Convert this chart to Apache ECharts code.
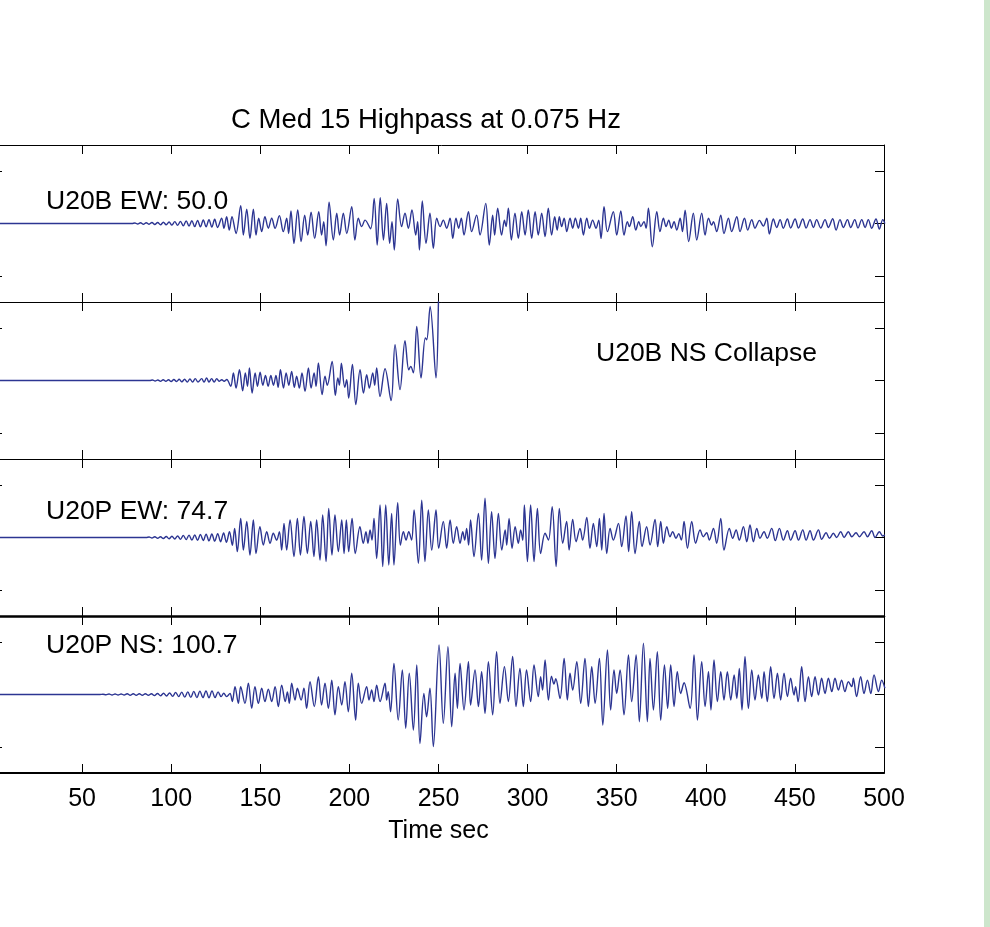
<!DOCTYPE html>
<html>
<head>
<meta charset="utf-8">
<script src="https://cdn.jsdelivr.net/npm/echarts@6/dist/echarts.min.js"></script>
<style>
html, body { margin: 0; padding: 0; background: #fff; }
#chart { width: 990px; height: 927px; }
</style>
</head>
<body>
<div id="chart"></div>
<script>
// Highpass-filtered records, [time in s, amplitude]
const ewB = [[0,0],[78,0],[79.6,0.02],[81.2,-0.02],[82.8,0.03],[84.4,-0.03],[86,0.03],[87.6,-0.03],[89.2,0.04],[90.8,-0.04],[92.4,0.04],[94,-0.05],[95.6,0.05],[97.2,-0.05],[98.8,0.06],[100.4,-0.06],[102,0.07],[103.6,-0.07],[105.2,0.08],[106.8,-0.09],[108.4,0.1],[110,-0.1],[111.6,0.11],[113.2,-0.12],[114.8,0.12],[116.4,-0.13],[118,0.14],[119.6,-0.13],[121.2,0.15],[122.8,-0.14],[124.4,0.16],[126,-0.15],
[128.3,0.20],[129.6,-0.18],[131.1,0.26],[132.6,-0.25],[134.1,0.26],[136.4,-0.38],[139.0,0.68],[140.5,-0.44],[142.4,0.55],[144.2,-0.57],[146.1,0.55],[147.6,-0.44],[149.1,0.20],[150.8,-0.31],[152.6,0.26],[154.5,-0.18],[156.4,0.20],[158.3,-0.18],[160.7,0.30],[162.9,-0.31],[164.8,0.20],[165.9,-0.38],[167.2,0.48],[168.9,-0.76],[171.0,0.52],[172.9,-0.69],[174.9,0.32],[176.6,-0.44],[178.5,0.43],[180.5,-0.57],[182.8,0.45],[184.4,-0.44],[185.6,0.07],[186.9,-0.85],[188.6,0.81],[191.0,-0.63],[192.9,0.39],[194.5,-0.44],[196.6,0.39],[198.5,-0.38],[201.3,0.64],[203.1,-0.63],[205.0,0.20],[206.9,-0.12],[208.8,0.13],[211.9,-0.2],[213.9,0.96],[215.6,-0.82],[217.3,0.99],[219.1,-0.63],[220.9,0.77],[222.6,-0.76],[223.9,0.07],[225.2,-1.01],[227.1,0.94],[229.3,-0.12],[231.2,0.39],[233.1,-0.18],[235.1,0.52],[237.2,-0.44],[238.3,0.07],[239.3,-1.01],[240.9,0.86],[243.0,-0.76],[245.2,0.39],[247.1,-0.95],[249.0,0.20],[250.9,-0.12],[252.7,0.13],[254.6,-0.18],[256.5,0.20],[258.0,-0.57],[259.8,0.20],[261.3,-0.18],[262.8,0.20],[264.3,-0.44],[266.8,0.45],[268.6,-0.31],[271.4,0.32],[273.3,-0.44],[276.5,0.77],[278.5,-0.82],[280.4,0.32],[281.5,-0.44],[283.2,0.58],[285.4,-0.44],[287.0,0.13],[287.9,-0.12],[289.2,0.58],[290.9,-0.63],[292.9,0.39],[294.8,-0.57],[296.7,0.45],[298.6,-0.44],[300.4,0.52],[302.3,-0.57],[304.2,0.45],[306.0,-0.44],[307.9,0.39],[309.8,-0.50],[311.6,0.58],[313.5,-0.44],
[315.2,0.26],[316.6,-0.25],[317.8,0.26],[319.1,-0.12],[320.5,0.20],[322.0,-0.31],[323.8,0.20],[325.3,-0.18],[326.8,0.20],[328.5,-0.18],[329.8,0.20],[331.3,-0.44],[333.2,0.20],[334.7,-0.18],[336.5,0.13],[338.4,-0.18],[339.9,0.13],[341.2,-0.57],[342.9,0.64],[344.8,-0.31],[348.1,0.45],[350.0,-0.44],[352.3,0.48],[354.1,-0.44],[356.0,0.07],[357.1,-0.12],[359.0,0.26],[360.7,-0.25],[362.4,0.07],[363.5,-0.12],[365.3,0.07],[366.5,-0.18],[367.8,0.58],[370.0,-0.89],[372.5,0.45],[374.3,-0.31],[376.2,0.20],[377.7,-0.12],[379.2,0.13],[380.7,-0.18],[382.2,0.07],[383.7,-0.25],[385.6,0.20],[386.9,-0.31],[388.4,0.51],[390.4,-0.69],[393.0,0.39],[394.9,-0.63],[397.7,0.39],[399.6,-0.44],[401.5,0.20],[403.3,-0.06],[404.3,0.07],[406.1,-0.31],[408.4,0.32],[410.2,-0.38],[412.7,0.20],[414.5,-0.31],[417.4,0.26],[419.2,-0.31],[421.7,0.20],[423.5,-0.25],[425.8,0.15],[427.6,-0.18],[430.1,0.12],[432.3,-0.10],[434.2,0.20],[435.7,-0.40],[437.9,0.17],[439.8,-0.15],[441.7,0.15],[443.5,-0.18],[445.8,0.17],[447.6,-0.17],[450.1,0.17],[452.0,-0.17],[454.4,0.17],[456.3,-0.17],[458.5,0.15],[460.4,-0.15],[462.2,0.15],[464.5,-0.17],[466.9,0.15],[468.8,-0.15],[471.2,0.18],[473.1,-0.25],[475.3,0.15],[477.2,-0.15],[479.5,0.15],[481.3,-0.15],[483.6,0.15],[485.4,-0.17],[487.5,0.15],[489.4,-0.15],[491.2,0.15],[493.1,-0.18],[495.5,0.17],[497.4,-0.21],[499.3,0.15],[500.5,0]];

const nsB = [[0,0],[88,0],[89.5,0.02],[91,-0.02],[92.5,0.02],[94,-0.03],[95.5,0.03],[97,-0.03],[98.5,0.03],[100,-0.04],[101.5,0.04],[103,-0.04],[104.5,0.05],[106,-0.05],[107.5,0.05],[109,-0.06],[110.5,0.06],[112,-0.06],[113.5,0.07],[115,-0.06],[117.1,0.07],[118.4,-0.06],[119.9,0.10],[121.2,-0.06],[122.7,0.07],[124.1,-0.06],[125.6,0.07],[126.9,-0.03],[128.4,0.03],[129.7,-0.03],[131.2,0.04],
[133.4,-0.22],[134.9,0.29],[136.4,-0.29],[138.3,0.41],[140.1,-0.39],[141.6,0.29],[142.8,-0.22],[143.9,0.48],[145.4,-0.48],[147.1,0.29],[148.4,-0.22],[149.9,0.32],[151.4,-0.18],[152.9,0.19],[154.4,-0.22],[155.9,0.19],[157.4,-0.18],[158.8,0.19],[160.0,-0.26],[161.3,0.41],[163.0,-0.29],[164.5,0.29],[166.0,-0.18],[167.6,0.35],[169.1,-0.26],[170.4,0.16],[171.9,-0.29],[173.4,0.29],[175.1,-0.41],[177.0,0.48],[178.5,-0.29],[180.2,0.29],[181.3,-0.22],[182.6,0.67],[184.7,-0.54],[186.3,0.16],[187.6,-0.18],[190.3,0.73],[192.1,-0.57],[193.5,0.10],[194.4,-0.18],[195.5,0.66],[197.4,-0.26],[198.5,0.03],[199.6,-0.67],[201.7,0.61],[203.6,-0.92],[206.0,0.41],[207.9,-0.48],[209.7,0.22],[211.2,-0.29],[213.1,0.29],[214.2,-0.18],[215.3,0.48],[217.2,-0.61],[220.0,0.45],[223.4,-0.77],[225.6,1.37],[228.4,-0.35],[231.2,1.52],[233.3,0.41],[234.4,0.54],[235.9,0.29],[237.8,2.07],[240.2,0.10],[242.6,1.63],[243.4,1.56],[245.3,2.83],[248.6,0.10],[250.1,3.4],[250.3,4.5]];

const ewP = [[0,0],[86,0],[87.6,0.02],[89.2,-0.02],[90.8,0.03],[92.4,-0.03],[94,0.03],[95.6,-0.04],[97.2,0.04],[98.8,-0.05],[100.4,0.05],[102,-0.06],[103.6,0.06],[105.2,-0.07],[106.8,0.08],[108.4,-0.08],[110,0.09],[111.6,-0.1],[113.2,0.1],[114.8,-0.11],[116.4,0.12],[118,-0.12],[119.6,0.13],[121.2,-0.13],[122.8,0.14],[124.4,-0.14],[126.1,0.15],[127.7,-0.16],[129.4,0.17],[131.0,-0.18],[132.7,0.22],[134.3,-0.3],[135.6,0.35],
[137.1,-0.54],[139.0,0.73],[140.5,-0.48],[142.4,0.61],[144.2,-0.67],[146.1,0.67],[147.6,-0.61],[149.8,0.41],[151.7,-0.29],[153.6,0.22],[155.5,-0.22],[157.3,0.16],[159.2,-0.10],[160.7,0.22],[162.0,-0.48],[163.3,0.54],[164.8,-0.48],[166.7,0.67],[168.9,-0.73],[170.8,0.73],[172.5,-0.67],[174.5,0.80],[176.4,-0.61],[178.3,0.61],[180.1,-0.73],[181.6,0.67],[183.5,-0.86],[185.0,0.86],[186.9,-0.92],[188.4,1.11],[190.2,-0.67],[191.9,0.86],[193.8,-0.54],[195.7,0.67],[197.0,-0.61],[198.3,0.67],[199.6,-0.54],[201.5,0.73],[203.3,-0.61],[205.9,0.41],[207.8,-0.22],[209.3,0.22],[210.4,-0.22],[211.6,0.29],[212.7,-0.10],[213.8,0.73],[215.3,-0.80],[217.2,1.24],[218.7,-1.11],[220.4,1.24],[222.1,-1.05],[223.7,0.92],[225.0,-1.05],[227.1,1.33],[228.6,-0.29],[230.3,0.22],[231.8,-0.10],[233.3,0.22],[234.9,-0.10],[236.3,1.05],[238.7,-0.99],[240.6,1.43],[242.4,-0.92],[244.3,1.05],[246.2,-0.48],[248.6,1.05],[250.1,-0.41],[252.7,0.61],[254.6,-0.41],[256.5,0.67],[258.3,-0.22],[260.2,0.41],[262.1,-0.22],[263.6,0.22],[264.7,-0.10],[265.8,0.35],[266.9,-0.29],[268.0,0.67],[269.9,-0.73],[272.4,0.92],[274.2,-0.86],[276.1,1.50],[278.0,-0.99],[279.8,0.99],[281.7,-0.80],[283.6,0.92],[285.5,-0.48],[287.4,0.29],[288.3,-0.29],[289.6,0.73],[291.3,-0.41],[293.0,0.41],[294.8,-0.22],[296.1,0.29],[297.3,-0.10],[298.2,1.24],[299.9,-0.92],[301.7,1.24],[303.6,-0.92],[305.5,1.11],[307.3,-0.61],[309.8,0.16],[311.7,-0.10],
[313.8,1.18],[316.0,-1.11],[317.8,1.11],[319.7,-0.22],[321.9,0.61],[323.3,-0.48],[325.3,0.69],[327.2,-0.16],[329.4,0.35],[330.9,-0.10],[333.2,0.77],[335.0,-0.41],[336.9,0.54],[338.8,-0.35],[340.3,0.73],[341.6,-0.48],[342.9,0.92],[344.4,-0.61],[346.3,0.35],[348.1,-0.10],[351.0,0.54],[352.8,-0.35],[355.2,0.82],[356.7,-0.54],[358.4,0.99],[360.3,-0.61],[362.7,0.61],[364.2,-0.35],[366.8,0.41],[368.7,-0.29],[371.5,0.69],[373.0,-0.35],[374.7,0.61],[376.2,-0.22],[378.1,0.41],[379.9,0.03],[381.4,0.22],[383.3,-0.03],[384.8,0.15],[386.3,-0.10],[387.8,0.61],[389.7,-0.41],[392.1,0.61],[394.3,-0.22],[396.8,0.29],[398.6,0.03],[400.5,0.18],[402.0,-0.10],[404.3,0.35],[406.1,-0.22],[408.4,0.73],[410.2,-0.48],[413.2,0.35],[415.1,-0.03],[417.0,0.29],[418.8,-0.10],[421.1,0.41],[423.0,-0.16],[424.8,0.48],[426.7,-0.16],[428.6,0.35],[430.4,-0.03],[432.7,0.22],[434.5,-0.03],[437.0,0.35],[439.0,-0.12],[441.3,0.35],[443.5,-0.10],[445.8,0.26],[447.6,-0.10],[450.1,0.26],[452.0,-0.10],[454.4,0.29],[456.3,-0.10],[458.5,0.26],[460.4,-0.10],[463.2,0.29],[465.0,-0.07],[467.5,0.18],[469.4,-0.03],[471.6,0.16],[473.4,0.0],[475.7,0.22],[477.6,0.0],[480.0,0.22],[481.9,0.03],[484.3,0.18],[486.2,0.03],[488.8,0.22],[490.7,0.03],[493.1,0.26],[495.0,0.0],[497.4,0.22],[499.3,0.06],[500.5,0.1]];

const nsP = [[0,0],[60,0],[61.7,0.01],[63.4,-0.01],[65.1,0.02],[66.8,-0.02],[68.5,0.02],[70.2,-0.02],[71.9,0.02],[73.6,-0.02],[75.3,0.03],[77,-0.03],[78.7,0.03],[80.4,-0.03],[82.1,0.03],[83.8,-0.03],[85.5,0.03],[87.2,-0.03],[88.9,0.03],[90.6,-0.04],[92.3,0.04],[94,-0.05],[95.7,0.05],[97.4,-0.06],[99.1,0.06],[100.8,-0.07],[102.5,0.08],[104.2,-0.08],[105.9,0.09],[107.6,-0.1],[109.3,0.1],[111,-0.11],[112.7,0.12],[114.4,-0.12],[116.1,0.13],[117.8,-0.12],[119.5,0.14],[121.2,-0.13],[122.9,0.14],[124.6,-0.12],[126.3,0.1],[128,-0.08],[129.5,0.05],[131.1,-0.08],[133.0,0.04],
[134.3,-0.27],[135.8,0.30],[137.7,-0.34],[139.0,0.30],[141.4,-0.34],[143.3,0.43],[145.2,-0.53],[147.0,0.30],[148.9,-0.34],[150.8,0.24],[152.6,-0.27],[154.5,0.20],[156.4,-0.27],[158.3,0.30],[160.1,-0.46],[162.0,0.36],[164.0,-0.27],[165.2,0.10],[166.3,-0.34],[167.6,0.43],[169.5,-0.21],[170.8,0.24],[172.9,-0.21],[174.5,0.24],[176.0,-0.53],[177.9,0.49],[180.3,-0.46],[182.6,0.68],[184.4,-0.40],[186.3,0.43],[188.2,-0.53],[190.1,0.55],[191.9,-0.78],[193.8,0.30],[195.7,-0.40],[197.5,0.49],[199.4,-0.66],[201.3,0.81],[203.5,-0.98],[205.0,0.43],[206.9,-0.34],[209.7,0.30],[211.0,-0.21],[212.5,0.17],[213.8,-0.27],[215.3,0.36],[217.2,-0.27],[220.0,0.43],[220.9,-0.21],[221.8,0.11],[223.1,-0.66],[225.0,1.19],[227.4,-0.98],[229.7,0.94],[231.6,-1.29],[233.6,0.81],[235.9,-1.36],[237.8,1.13],[239.6,-1.87],[241.8,0.04],[243.3,-0.85],[245.2,0.24],[247.1,-1.99],[250.3,1.89],[252.7,-1.10],[255.3,1.83],[257.4,-1.23],[259.3,0.81],[260.6,-0.53],[262.1,1.19],[264.3,-0.59],[266.8,1.25],[268.0,-0.40],[270.5,0.94],[272.4,-0.46],[274.2,0.87],[276.1,-0.72],[278.0,1.25],[280.4,-0.78],[282.6,1.64],[284.5,-0.34],[287.0,1.06],[289.2,-0.27],[291.6,1.45],[293.5,-0.46],[295.7,1.00],[297.6,-0.46],[299.4,0.94],[301.7,-0.27],[303.6,1.13],[306.0,-0.08],[307.3,0.68],[308.4,0.17],[309.8,1.32],[311.7,-0.21],
[313.4,0.70],[314.8,0.40],[315.8,0.60],[318.2,-0.15],[320.5,1.38],[322.3,-0.21],[323.8,0.81],[325.3,0.17],[327.6,1.25],[329.8,-0.34],[332.2,1.38],[334.1,-0.46],[336.0,1.06],[337.9,-0.34],[340.3,1.38],[342.2,-1.17],[344.8,1.70],[346.6,-0.59],[348.5,0.94],[350.0,0.04],[351.9,0.94],[354.1,-0.78],[356.6,1.51],[358.4,-0.27],[360.9,1.51],[362.7,-1.04],[365.0,1.96],[367.2,-1.04],[368.7,1.38],[370.6,-0.59],[372.8,1.64],[374.7,-0.98],[376.8,1.13],[378.6,-0.53],[380.3,1.13],[382.2,-0.46],[384.0,0.87],[385.9,0.04],[387.8,0.45],[391.2,-0.53],[393.4,1.51],[395.3,-0.98],[397.7,1.25],[399.6,-0.46],[401.5,0.87],[402.9,-0.59],[404.6,1.32],[406.5,-0.27],[408.4,0.87],[410.2,-0.21],[412.1,0.87],[414.0,-0.21],[415.9,0.75],[417.4,-0.15],[418.8,1.00],[420.3,-0.59],[422.0,1.45],[423.9,-0.53],[425.8,0.94],[427.6,-0.21],[429.5,0.75],[431.4,-0.15],[432.7,0.87],[434.5,-0.27],[436.4,1.06],[438.3,-0.15],[440.2,0.81],[442.0,-0.21],[443.9,0.81],[445.8,-0.08],[447.6,0.62],[449.5,-0.02],[450.4,0.30],[451.8,-0.27],[453.8,1.06],[455.7,-0.27],[457.6,0.68],[459.4,-0.08],[461.3,0.68],[463.2,-0.02],[465.0,0.62],[466.9,0.04],[468.8,0.62],[470.7,0.11],[472.5,0.62],[474.4,0.17],[476.2,0.55],[478.1,0.11],[480.0,0.49],[481.9,0.30],[482.8,0.62],[484.6,-0.08],[486.9,0.68],[488.8,0.04],[490.7,0.55],[492.6,0.04],[494.4,0.75],[496.9,0.11],[498.7,0.55],[500.5,0.24]];

const records = [ewB, nsB, ewP, nsP];
const recordLabels = ['U20B EW: 50.0', 'U20B NS Collapse', 'U20P EW: 74.7', 'U20P NS: 100.7'];
const ampTicks = [-2, 0, 2];
const timeRange = [0, 500];
const timeStep = 50;
const chartTitle = 'C Med 15 Highpass at 0.075 Hz';
const timeName = 'Time sec';

// layout of the four stacked panels
const FONT = '"Liberation Sans", Arial, Helvetica, sans-serif';
const PANEL_TOP = 145, PANEL_H = 157, PLOT_LEFT = -7, PLOT_RIGHT = 884;
const TRACE_COLOR = '#2c3592';

const grids = [], xAxes = [], yAxes = [], series = [];
records.forEach((rec, i) => {
  const last = i === records.length - 1;
  grids.push({
    left: PLOT_LEFT, width: PLOT_RIGHT - PLOT_LEFT,
    top: PANEL_TOP + i * PANEL_H, height: PANEL_H,
    containLabel: false, outerBoundsMode: 'none'
  });
  ['bottom', 'top'].forEach(pos => {
    const thick = (pos === 'top' && i === 3) ? 2.5 : (pos === 'bottom' && last ? 2 : 1);
    xAxes.push({
      type: 'value', gridIndex: i, position: pos,
      min: timeRange[0], max: timeRange[1], interval: timeStep,
      axisLine: { show: true, onZero: false, lineStyle: { color: '#000', width: thick } },
      axisTick: { show: true, inside: true, length: 9, lineStyle: { color: '#000', width: 1 } },
      splitLine: { show: false },
      axisLabel: {
        show: last && pos === 'bottom', color: '#000', fontSize: 25, fontFamily: FONT, margin: 14
      },
      name: (last && pos === 'bottom') ? timeName : '',
      nameLocation: 'middle', nameGap: 46,
      nameTextStyle: { color: '#000', fontSize: 25, fontFamily: FONT }
    });
  });
  ['left', 'right'].forEach(pos => {
    yAxes.push({
      type: 'value', gridIndex: i, position: pos,
      min: -3, max: 3,
      axisLine: { show: true, onZero: false, lineStyle: { color: '#000', width: 1 } },
      axisTick: { show: true, inside: true, length: 9, customValues: ampTicks, lineStyle: { color: '#000', width: 1 } },
      axisLabel: { show: false },
      splitLine: { show: false }
    });
  });
  series.push({
    type: 'line', xAxisIndex: 2 * i, yAxisIndex: 2 * i,
    data: rec, showSymbol: false, symbol: 'none', smooth: 0.35,
    clip: true, lineStyle: { color: TRACE_COLOR, width: 1.4 },
    silent: true, animation: false
  });
});

const labelPos = [[46, 188], [596, 340], [46, 498], [46, 632]];
const titles = [{
  text: chartTitle, left: 426, top: 106, textAlign: 'center', padding: 0,
  textStyle: { color: '#000', fontSize: 27.5, fontWeight: 'normal', fontFamily: FONT }
}];
recordLabels.forEach((txt, i) => {
  titles.push({
    text: txt, left: labelPos[i][0], top: labelPos[i][1], padding: 0,
    textStyle: { color: '#000', fontSize: 26.5, fontWeight: 'normal', fontFamily: FONT }
  });
});

const chart = echarts.init(document.getElementById('chart'), null, { renderer: 'canvas' });
chart.setOption({
  animation: false,
  backgroundColor: '#fff',
  title: titles,
  grid: grids,
  xAxis: xAxes,
  yAxis: yAxes,
  series: series,
  graphic: [{
    type: 'rect', left: 984, top: 0, silent: true,
    shape: { width: 6, height: 927 },
    style: { fill: '#cde6cc' }
  }]
});
</script>
</body>
</html>
